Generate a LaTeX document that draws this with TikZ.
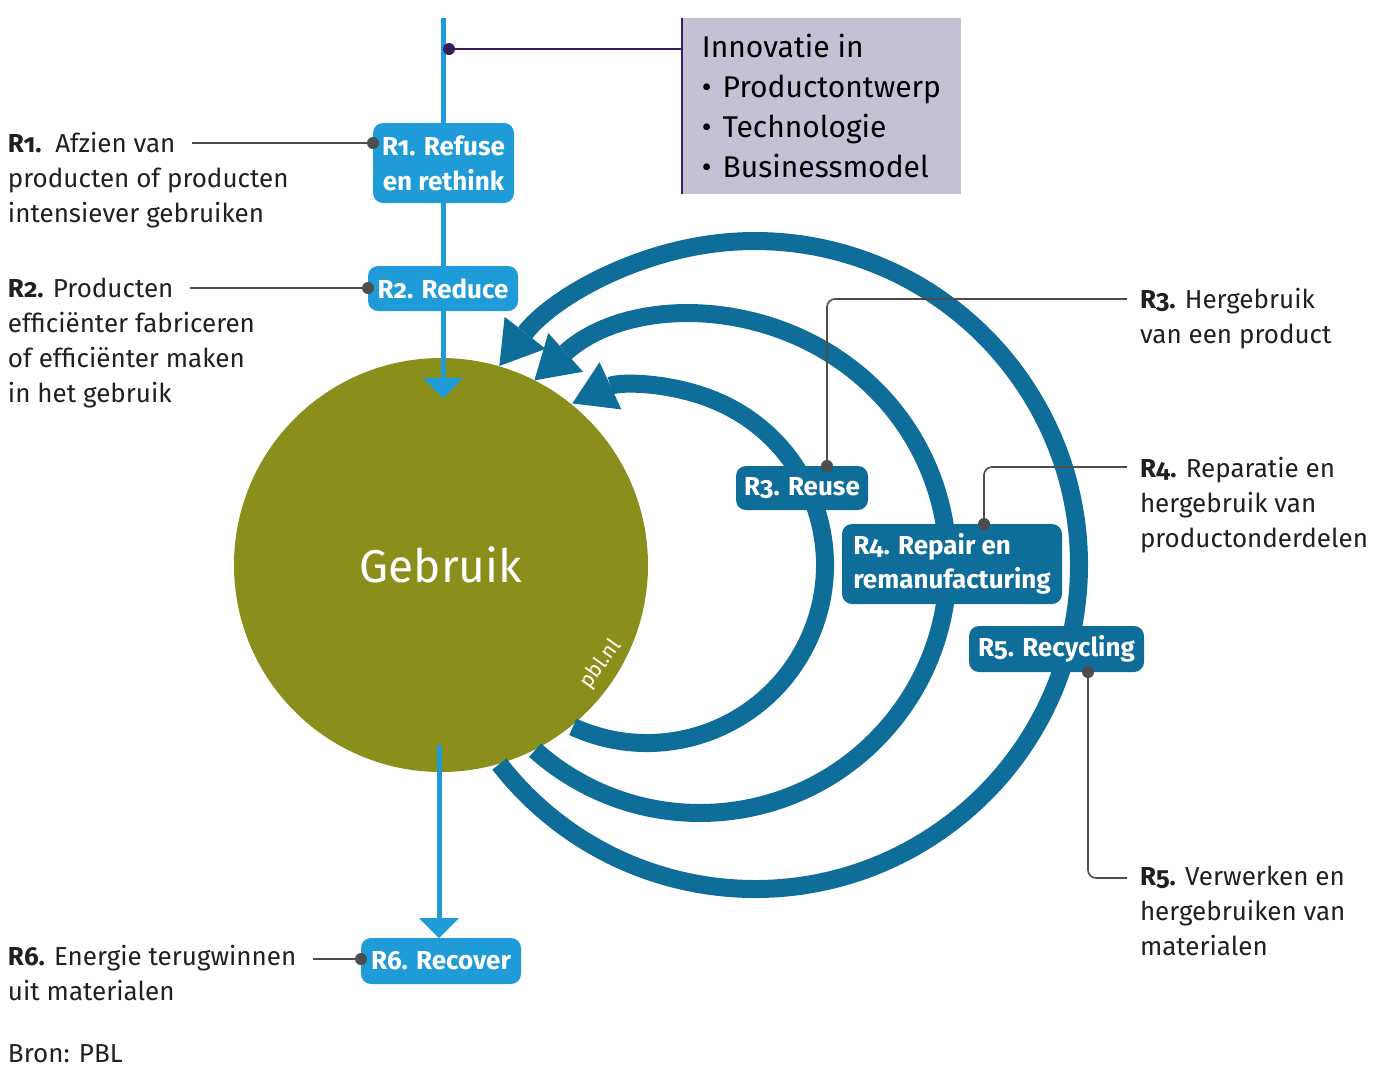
\documentclass[tikz,border=0pt]{standalone}
\usepackage{fontspec}
\setmainfont{Fira Sans}[Numbers=OldStyle]
\usetikzlibrary{arrows.meta,calc}
\definecolor{olijf}{RGB}{138,143,27}
\definecolor{donkerblauw}{RGB}{14,109,153}
\definecolor{lichtblauw}{RGB}{31,155,216}
\definecolor{lila}{RGB}{198,192,213}
\definecolor{paars}{RGB}{58,29,94}
\definecolor{tekst}{RGB}{35,31,32}
\definecolor{grijs}{RGB}{77,77,77}
\begin{document}
\begin{tikzpicture}[x=1pt,y=-1pt,
  every node/.style={inner sep=0pt, outer sep=0pt},
  lbox/.style={fill=lichtblauw, text=white, rounded corners=10pt, font=\bfseries\fontsize{26}{35}\selectfont, align=center},
  dbox/.style={fill=donkerblauw, text=white, rounded corners=10pt, font=\bfseries\fontsize{26}{34}\selectfont, align=center},
  desc/.style={font=\fontsize{26}{35}\selectfont, text=tekst, align=left, anchor=base west},
  lead/.style={draw=grijs, line width=1.6pt},
  dot/.style={circle, fill=grijs, minimum size=12pt},
  flow/.style={draw=lichtblauw, line width=5pt, -{Triangle[width=40pt,length=20pt,line width=0pt 0 0]}},
  loop/.style={draw=donkerblauw, line width=18pt, -{Triangle[width=52pt,length=42pt,line width=0pt 0 0]}}
]
\useasboundingbox (0,0) rectangle (1382,1072);

% central circle
\node[circle, fill=olijf, minimum size=414pt, text=white, font=\fontsize{46}{50}\selectfont] (gebruik) at (441,565) {Gebruik};
\node[rotate=54, text=white, font=\fontsize{21}{21}\selectfont] (pbl) at (601,664) {pbl.nl};

% loops
\coordinate (c3) at (647,565);
\coordinate (c4) at (700,565);
\coordinate (c5) at (755,565);
\draw[loop] ($(c3)+(114.6:178)$) arc[start angle=114.6, end angle=-114.8, radius=178];
\draw[loop] ($(c4)+(131.7:248)$) arc[start angle=131.7, end angle=-131.9, radius=248];
\draw[loop] ($(c5)+(142.1:324)$) arc[start angle=142.1, end angle=-142.1, radius=324];

% incoming flow
\coordinate (src) at (443,18);
\coordinate (inuse) at (443,398);
\draw[flow] (src) -- (inuse);

% boxes
\node[lbox, minimum width=141pt, minimum height=80pt] (r1) at (443.5,163) {R1. Refuse\\en rethink};
\node[lbox, minimum width=150pt, minimum height=45pt] (r2) at (443,288.5) {R2. Reduce};
\node[lbox, minimum width=160pt, minimum height=46pt] (r6) at (441,961) {R6. Recover};
\node[dbox, minimum width=132pt, minimum height=44pt] (r3) at (802,488) {R3. Reuse};
\node[dbox, minimum width=220pt, minimum height=80pt, align=left] (r4) at (952,564) {R4. Repair en\\remanufacturing};
\node[dbox, minimum width=175pt, minimum height=46pt] (r5) at (1056.5,649) {R5. Recycling};

% outgoing flow
\coordinate (outuse) at (439,745);
\draw[flow] (outuse) -- (outuse |- r6.north);

% innovation box
\node[fill=lila, anchor=north west, minimum width=279pt, minimum height=176pt, align=left, font=\fontsize{30}{40}\selectfont, text=black] (innov) at (682,18) {Innovatie in\\•\hspace{11pt}Productontwerp\\•\hspace{11pt}Technologie\\•\hspace{11pt}Businessmodel};
\draw[paars, line width=2pt] (innov.north west) -- (innov.south west);
\coordinate (idot) at (449,49);
\draw[paars, line width=2pt] (idot) -- (idot -| innov.west);
\fill[paars] (idot) circle[radius=6];

% descriptions left (base anchor = last line)
\node[desc] (t1) at (8,222) {\textbf{R1.}\ \ Afzien van\\producten of producten\\intensiever gebruiken};
\node[desc] (t2) at (8,402) {\textbf{R2.} Producten\\efficiënter fabriceren\\of efficiënter maken\\in het gebruik};
\node[desc] (t6) at (8,1000) {\textbf{R6.} Energie terugwinnen\\uit materialen};
\node[desc] (bron) at (8,1062) {Bron: PBL};

% descriptions right
\node[desc] (t3) at (1140,343) {\textbf{R3.} Hergebruik\\van een product};
\node[desc] (t4) at (1140,547) {\textbf{R4.} Reparatie en\\hergebruik van\\productonderdelen};
\node[desc] (t5) at (1140,955) {\textbf{R5.} Verwerken en\\hergebruiken van\\materialen};

% leads left
\coordinate (e1) at (192,143);
\draw[lead] (e1) -- (e1 -| r1.west);
\node[dot] (p1) at (e1 -| r1.west) {};
\coordinate (e2) at (190,288);
\draw[lead] (e2) -- (e2 -| r2.west);
\node[dot] (p2) at (e2 -| r2.west) {};
\coordinate (e6) at (313,959);
\draw[lead] (e6) -- (e6 -| r6.west);
\node[dot] (p6) at (e6 -| r6.west) {};

% leads right
\coordinate (d3) at ($(r3.north)+(25,0)$);
\coordinate (e3) at (1127,299);
\draw[lead, rounded corners=8pt] (d3) |- (e3);
\node[dot] (p3) at (d3) {};
\coordinate (d4) at ($(r4.north)+(32,0)$);
\coordinate (e4) at (1127,467);
\draw[lead, rounded corners=8pt] (d4) |- (e4);
\node[dot] (p4) at (d4) {};
\coordinate (d5) at ($(r5.south)+(31.5,0)$);
\coordinate (e5) at (1127,878);
\draw[lead, rounded corners=8pt] (d5) |- (e5);
\node[dot] (p5) at (d5) {};
\end{tikzpicture}
\end{document}
